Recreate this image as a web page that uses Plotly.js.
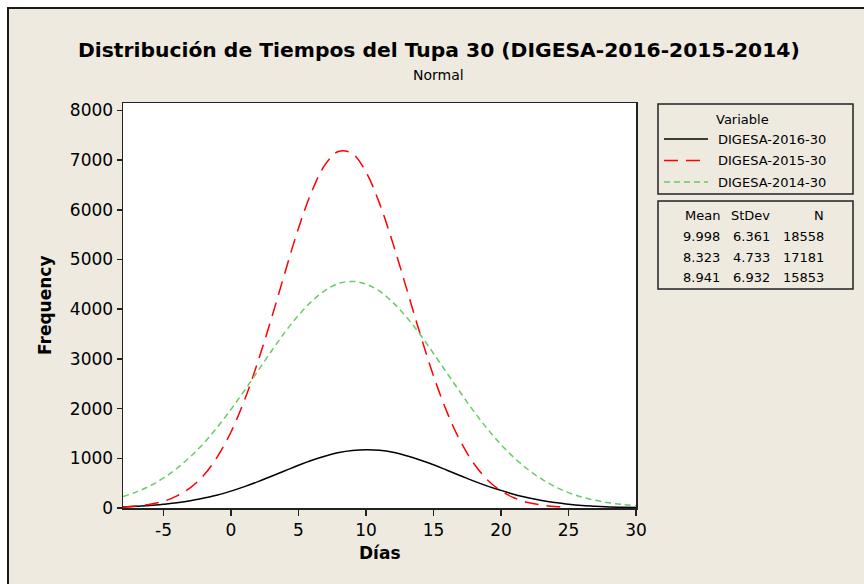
<!DOCTYPE html>
<html>
<head>
<meta charset="utf-8">
<script src="https://cdn.plot.ly/plotly-3.0.1.min.js"></script>
<style>
  html, body { margin:0; padding:0; background:#ffffff; width:864px; height:584px; overflow:hidden; }
  #bg { position:absolute; left:7px; top:7px; width:857px; height:577px; background:#EEEAE0; border-left:2px solid #1a1a1a; border-top:2px solid #1a1a1a; box-sizing:border-box; }
  #chart { position:absolute; left:0; top:0; width:864px; height:584px; }
</style>
</head>
<body>
<div id="bg"></div>
<div id="chart"></div>
<script>
// Days (x) for each series
const days2016 = [-8,-7,-6,-5,-4,-3,-2,-1,0,1,2,3,4,5,6,7,8,9,10,11,12,13,14,15,16,17,18,19,20,21,22,23,24,25,26,27,28,29,30];
const freq2016 = [20,35,50,75,105,145,200,260,340,430,530,640,750,860,960,1045,1115,1155,1170,1160,1120,1050,965,870,760,650,540,440,355,270,205,150,110,75,50,35,20,15,10];

const days2015 = [-8,-7,-6,-5,-4,-3,-2,-1,0,1,2,3,4,5,6,7,8,9,10,11,12,13,14,15,16,17,18,19,20,21,22,23,24,25];
const freq2015 = [20,40,75,135,245,410,665,1035,1530,2170,2950,3820,4740,5630,6380,6920,7180,7130,6760,6130,5320,4420,3510,2660,1930,1340,890,565,345,200,110,60,30,15];

const days2014 = [-8,-7,-6,-5,-4,-3,-2,-1,0,1,2,3,4,5,6,7,8,9,10,11,12,13,14,15,16,17,18,19,20,21,22,23,24,25,26,27,28,29,30];
const freq2014 = [230,325,445,605,800,1035,1310,1630,1985,2365,2760,3160,3540,3880,4165,4385,4520,4560,4505,4365,4135,3840,3495,3110,2715,2320,1940,1590,1275,1005,775,585,430,310,220,155,105,70,45];

const seriesNames = ["DIGESA-2016-30", "DIGESA-2015-30", "DIGESA-2014-30"];
const statsHeader = ["Mean", "StDev", "N"];
const statMean  = ["9.998", "8.323", "8.941"];
const statStDev = ["6.361", "4.733", "6.932"];
const statN     = ["18558", "17181", "15853"];

const xTicks = [-5,0,5,10,15,20,25,30];
const yTicks = [0,1000,2000,3000,4000,5000,6000,7000,8000];

// geometry helpers (pixel -> paper)
const L = 123, R = 636, T = 103, B = 508;
const xp = px => (px - L) / (R - L);
const yp = py => (B - py) / (B - T);

const colors = ["#000000", "#FF0000", "#66CC66"];
const dashes = ["solid", "14px,8px", "6px,4px"];

const traces = [
  {x: days2016, y: freq2016, name: seriesNames[0], mode: "lines", line: {color: colors[0], width: 1.5, dash: dashes[0], shape: "spline"}},
  {x: days2015, y: freq2015, name: seriesNames[1], mode: "lines", line: {color: colors[1], width: 1.5, dash: dashes[1], shape: "spline"}},
  {x: days2014, y: freq2014, name: seriesNames[2], mode: "lines", line: {color: colors[2], width: 1.5, dash: dashes[2], shape: "spline"}}
];

const font = "DejaVu Sans, Verdana, sans-serif";
const ann = [];
const shapes = [];

// titles
ann.push({text: "<b>Distribución de Tiempos del Tupa 30 (DIGESA-2016-2015-2014)</b>", x: xp(439), y: yp(50), xref: "paper", yref: "paper", showarrow: false, xanchor: "center", yanchor: "middle", font: {family: font, size: 20.3, color: "#000"}});
ann.push({text: "Normal", x: xp(438), y: yp(75), xref: "paper", yref: "paper", showarrow: false, xanchor: "center", yanchor: "middle", font: {family: font, size: 14, color: "#000"}});
ann.push({text: "<b>Días</b>", x: xp(380), y: yp(553), xref: "paper", yref: "paper", showarrow: false, xanchor: "center", yanchor: "middle", font: {family: font, size: 17, color: "#000"}});
ann.push({text: "<b>Frequency</b>", x: xp(45), y: yp(305), xref: "paper", yref: "paper", showarrow: false, textangle: -90, xanchor: "center", yanchor: "middle", font: {family: font, size: 17, color: "#000"}});

// legend boxes
shapes.push({type: "rect", xref: "paper", yref: "paper", x0: xp(658), x1: xp(853), y0: yp(104), y1: yp(194), line: {color: "#222", width: 1.5}, fillcolor: "rgba(0,0,0,0)"});
shapes.push({type: "rect", xref: "paper", yref: "paper", x0: xp(658), x1: xp(853), y0: yp(201), y1: yp(289), line: {color: "#222", width: 1.5}, fillcolor: "rgba(0,0,0,0)"});

ann.push({text: "Variable", x: xp(742), y: yp(119), xref: "paper", yref: "paper", showarrow: false, xanchor: "center", yanchor: "middle", font: {family: font, size: 13, color: "#000"}});
const rowY = [139, 160.5, 182];
for (let i = 0; i < 3; i++) {
  shapes.push({type: "line", xref: "paper", yref: "paper", x0: xp(664), x1: xp(708), y0: yp(rowY[i]), y1: yp(rowY[i]), line: {color: colors[i], width: 1.5, dash: dashes[i]}});
  ann.push({text: seriesNames[i], x: xp(716), y: yp(rowY[i]), xref: "paper", yref: "paper", showarrow: false, xanchor: "left", yanchor: "middle", font: {family: font, size: 13, color: "#000"}});
}

// stats table
const colRight = [722, 772, 826];
const statRows = [215, 236, 257, 277];
const cols = [statMean, statStDev, statN];
for (let c = 0; c < 3; c++) {
  ann.push({text: statsHeader[c], x: xp(colRight[c]), y: yp(statRows[0]), xref: "paper", yref: "paper", showarrow: false, xanchor: "right", yanchor: "middle", font: {family: font, size: 13, color: "#000"}});
  for (let r = 0; r < 3; r++) {
    ann.push({text: cols[c][r], x: xp(colRight[c]), y: yp(statRows[r + 1]), xref: "paper", yref: "paper", showarrow: false, xanchor: "right", yanchor: "middle", font: {family: font, size: 13, color: "#000"}});
  }
}

const layout = {
  width: 864, height: 584,
  margin: {l: L, r: 864 - R, t: T, b: 584 - B, pad: 0},
  paper_bgcolor: "rgba(0,0,0,0)",
  plot_bgcolor: "#ffffff",
  showlegend: false,
  font: {family: font, color: "#000"},
  xaxis: {
    range: [-8, 30], tickvals: xTicks, ticktext: xTicks.map(String),
    showgrid: false, zeroline: false, showline: true, mirror: true, linecolor: "#222", linewidth: 1.5,
    ticks: "outside", ticklen: 6, tickcolor: "#222", tickwidth: 1.5,
    tickfont: {family: font, size: 17, color: "#000"}
  },
  yaxis: {
    range: [0, 8150], tickvals: yTicks, ticktext: yTicks.map(String),
    showgrid: false, zeroline: false, showline: true, mirror: true, linecolor: "#222", linewidth: 1.5,
    ticks: "outside", ticklen: 5, tickcolor: "#222", tickwidth: 1.5,
    tickfont: {family: font, size: 17, color: "#000"}
  },
  annotations: ann,
  shapes: shapes
};

Plotly.newPlot("chart", traces, layout, {displayModeBar: false, staticPlot: true});
</script>
</body>
</html>
